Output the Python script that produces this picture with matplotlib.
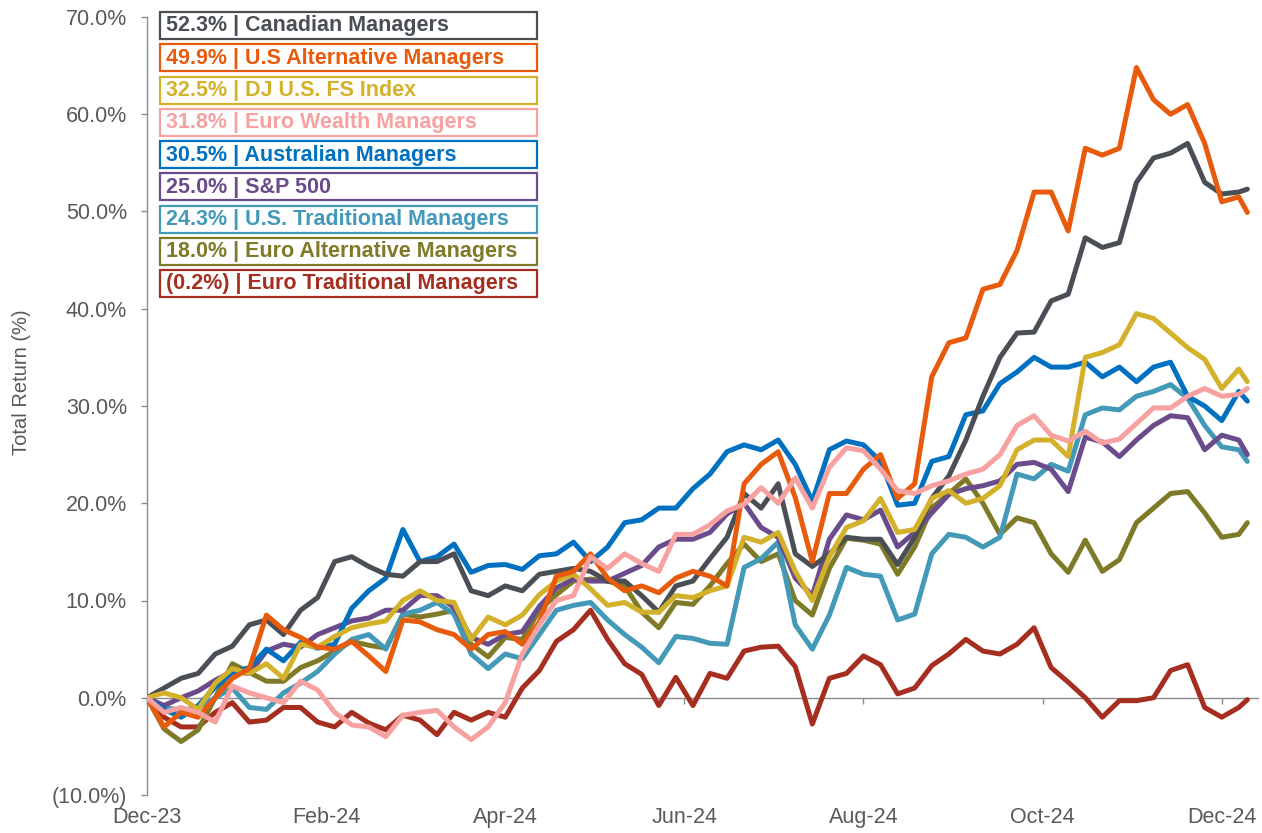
import matplotlib
matplotlib.use("Agg")
import matplotlib.pyplot as plt
from matplotlib.patches import Rectangle
from matplotlib.ticker import FuncFormatter
import numpy as np

plt.rcParams['font.family'] = ['Liberation Sans', 'DejaVu Sans']

# trading-day index of each sample (Dec-23 = 0)
day = list(range(0, 257, 4)) + [258]

tick_days = [0, 42, 84, 126, 168, 210, 252]
tick_labels = ['Dec-23', 'Feb-24', 'Apr-24', 'Jun-24', 'Aug-24', 'Oct-24', 'Dec-24']

names = ['Canadian Managers', 'U.S Alternative Managers', 'DJ U.S. FS Index',
         'Euro Wealth Managers', 'Australian Managers', 'S&P 500',
         'U.S. Traditional Managers', 'Euro Alternative Managers',
         'Euro Traditional Managers']
final_returns = [52.3, 49.9, 32.5, 31.8, 30.5, 25.0, 24.3, 18.0, -0.2]
colors = ['#4a4f55', '#e85a0c', '#d4b12a', '#f7a1a1', '#0070c0',
          '#6a4c8c', '#4399b8', '#7f7a28', '#a52e20']

canadian = [0, 1.0, 2.0, 2.5, 4.5, 5.3, 7.5, 8.0, 6.5, 9.0, 10.3, 14.0, 14.5, 13.5,
            12.7, 12.5, 14.0, 14.0, 14.8, 11.0, 10.5, 11.5, 11.0, 12.7, 13.0, 13.3,
            13.0, 12.0, 12.0, 10.5, 8.8, 11.5, 12.0, 14.3, 16.5, 21.0, 19.5, 22.0,
            14.8, 13.5, 14.8, 16.5, 16.3, 16.3, 13.7, 16.5, 20.5, 22.8, 26.5, 31.0,
            35.0, 37.5, 37.6, 40.8, 41.5, 47.3, 46.3, 46.8, 53.0, 55.5, 56.0, 57.0,
            53.0, 51.8, 52.0, 52.3]
us_alt = [0, -3.0, -1.5, -2.0, 0, 2.0, 3.0, 8.5, 7.0, 6.2, 5.2, 5.0, 5.8, 4.3, 2.7,
          8.0, 7.8, 7.0, 6.5, 5.0, 6.5, 6.8, 5.5, 7.8, 12.5, 13.0, 14.8, 12.3, 11.0,
          11.5, 10.8, 12.3, 13.0, 12.5, 11.5, 22.0, 24.0, 25.3, 20.6, 14.0, 21.0,
          21.0, 23.5, 25.0, 20.5, 22.0, 33.0, 36.5, 37.0, 42.0, 42.5, 46.0, 52.0,
          52.0, 48.0, 56.5, 55.8, 56.5, 64.8, 61.5, 60.0, 61.0, 57.0, 51.0, 51.5, 49.9]
dj_fs = [0, 0.5, 0, -1.2, 1.5, 3.0, 2.5, 3.5, 2.0, 5.5, 5.2, 6.3, 7.2, 7.6, 7.9, 10.0,
         11.0, 10.0, 9.8, 6.0, 8.3, 7.5, 8.5, 10.6, 12.0, 12.7, 11.2, 9.5, 9.8, 8.8,
         8.8, 10.5, 10.3, 11.0, 11.5, 16.5, 16.0, 17.0, 13.0, 10.0, 14.5, 17.5, 18.2,
         20.5, 17.0, 17.3, 20.5, 21.3, 20.0, 20.5, 21.8, 25.5, 26.5, 26.5, 24.8, 35.0,
         35.5, 36.3, 39.5, 39.0, 37.5, 36.0, 34.8, 31.8, 33.8, 32.5]
euro_wealth = [0, -1.5, -1.0, -1.5, -2.5, 1.2, 0.5, 0, -0.5, 1.7, 0.8, -1.5, -2.8,
               -3.0, -4.0, -1.8, -1.5, -1.3, -3.0, -4.3, -3.0, -0.5, 4.5, 7.5, 10.0,
               10.5, 14.5, 13.3, 14.8, 13.8, 13.0, 16.8, 16.8, 17.8, 19.2, 19.9, 21.6,
               20.0, 22.6, 19.5, 23.7, 25.7, 25.4, 23.5, 21.3, 21.0, 21.8, 22.3, 23.0,
               23.5, 25.0, 28.0, 29.0, 27.0, 26.4, 27.4, 26.2, 26.6, 28.2, 29.8, 29.8,
               31.0, 31.8, 31.0, 31.2, 31.8]
australian = [0, -1.2, -2.0, -0.8, 1.1, 2.6, 3.1, 5.0, 3.8, 5.7, 5.1, 5.5, 9.2, 11.0,
              12.3, 17.3, 14.0, 14.5, 15.8, 12.9, 13.6, 13.7, 13.2, 14.6, 14.8, 16.0,
              14.0, 15.5, 18.0, 18.3, 19.5, 19.5, 21.5, 23.0, 25.3, 26.0, 25.5, 26.5,
              24.0, 20.2, 25.5, 26.4, 26.0, 24.3, 19.8, 20.0, 24.3, 24.8, 29.1, 29.5,
              32.3, 33.5, 35.0, 34.0, 34.0, 34.5, 33.0, 34.0, 32.5, 34.0, 34.5, 31.0,
              30.0, 28.5, 31.5, 30.5]
sp500 = [0, -0.8, 0, 0.7, 1.8, 2.7, 2.5, 4.8, 5.5, 5.2, 6.5, 7.2, 7.9, 8.2, 9.0, 9.0,
         10.5, 10.5, 9.3, 6.2, 5.5, 6.5, 6.8, 9.4, 11.3, 12.2, 12.0, 12.0, 12.8, 13.6,
         15.5, 16.3, 16.3, 17.0, 18.9, 20.0, 17.5, 16.5, 12.3, 10.5, 16.3, 18.8, 18.3,
         19.3, 15.5, 17.0, 19.0, 20.9, 21.5, 21.8, 22.3, 24.0, 24.2, 23.5, 21.2, 26.8,
         26.3, 24.8, 26.5, 28.0, 29.0, 28.8, 25.5, 27.0, 26.5, 25.0]
us_trad = [0, -1.0, -1.3, -1.0, 0, 1.0, -1.0, -1.2, 0.5, 1.5, 2.7, 4.5, 6.0, 6.5, 5.0,
           8.6, 9.0, 9.8, 8.6, 4.5, 3.0, 4.5, 4.0, 6.5, 9.0, 9.5, 9.8, 8.0, 6.5, 5.2,
           3.6, 6.3, 6.1, 5.6, 5.5, 13.4, 14.3, 16.0, 7.5, 5.0, 8.5, 13.4, 12.7, 12.5,
           8.0, 8.6, 14.8, 16.8, 16.5, 15.5, 16.5, 23.0, 22.5, 24.0, 23.3, 29.1, 29.8,
           29.6, 31.0, 31.5, 32.2, 30.8, 28.0, 25.8, 25.5, 24.3]
euro_alt = [0, -3.2, -4.5, -3.3, 0, 3.5, 2.6, 1.7, 1.7, 3.1, 3.8, 4.8, 5.8, 5.4, 5.1,
            8.6, 8.3, 8.6, 9.0, 5.5, 4.2, 6.2, 6.0, 9.0, 10.6, 12.0, 12.2, 12.0, 11.5,
            8.8, 7.2, 9.8, 9.6, 11.5, 13.8, 15.8, 14.0, 14.8, 10.0, 8.5, 13.3, 16.4,
            16.2, 15.8, 12.7, 15.5, 19.5, 21.0, 22.5, 20.0, 16.8, 18.5, 18.0, 14.8,
            12.9, 16.2, 13.0, 14.2, 18.0, 19.5, 21.0, 21.2, 19.0, 16.5, 16.8, 18.0]
euro_trad = [0, -2.0, -3.0, -3.0, -1.5, -0.5, -2.5, -2.3, -1.0, -1.0, -2.5, -3.0, -1.5,
             -2.6, -3.3, -1.8, -2.3, -3.8, -1.5, -2.3, -1.5, -2.0, 1.0, 2.8, 5.8, 7.0,
             9.0, 6.0, 3.5, 2.4, -0.8, 2.1, -0.8, 2.5, 2.0, 4.8, 5.2, 5.3, 3.2, -2.7,
             2.0, 2.5, 4.3, 3.4, 0.4, 1.0, 3.3, 4.5, 6.0, 4.8, 4.5, 5.5, 7.2, 3.1, 1.6,
             0, -2.0, -0.3, -0.3, 0, 2.8, 3.4, -1.0, -2.0, -1.0, -0.2]

series = [canadian, us_alt, dj_fs, euro_wealth, australian, sp500,
          us_trad, euro_alt, euro_trad]
draw_order = [8, 7, 6, 5, 4, 0, 2, 1, 3]

W, H = 1262, 833
fig = plt.figure(figsize=(W / 100, H / 100), dpi=100)
ax = fig.add_axes([147 / W, 1 - 795 / H, 1111 / W, 778 / H])

for i in draw_order:
    ax.plot(day, series[i], color=colors[i], lw=3.6, solid_joinstyle='round',
            solid_capstyle='round', zorder=3 + draw_order.index(i))

ax.set_xlim(0, 260.5)
ax.set_ylim(-10, 70)

axis_grey = '#8a8a8a'
text_grey = '#595959'
for s in ['top', 'right']:
    ax.spines[s].set_visible(False)
ax.spines['left'].set_color(axis_grey)
ax.spines['left'].set_linewidth(1.0)
ax.spines['bottom'].set_position(('data', 0))
ax.spines['bottom'].set_color(axis_grey)
ax.spines['bottom'].set_linewidth(1.0)

ax.set_yticks(np.arange(-10, 71, 10))


def pct(v, pos):
    if v < 0:
        return f'({abs(v):.1f}%)'
    return f'{v:.1f}%'


ax.yaxis.set_major_formatter(FuncFormatter(pct))
ax.tick_params(axis='y', direction='out', length=4.5, width=1.0, color=axis_grey,
               labelsize=15.5, labelcolor=text_grey, pad=10)
ax.set_xticks(tick_days)
ax.set_xticklabels(tick_labels)
ax.tick_params(axis='x', direction='out', length=4.5, width=1.0, color=axis_grey,
               labelsize=15.5, labelcolor=text_grey, pad=74)

fig.text(22 / W, 1 - 382 / H, 'Total Return (%)', rotation=90, ha='center',
         va='center', fontsize=14.5, color=text_grey)

# boxed legend
box_left, box_right = 160, 537
box_h, pitch, top0 = 27, 32.25, 12
for i, name in enumerate(names):
    v = final_returns[i]
    val = f'({abs(v):.1f}%)' if v < 0 else f'{v:.1f}%'
    y_top = top0 + i * pitch
    fig.patches.append(Rectangle((box_left / W, 1 - (y_top + box_h) / H),
                                 (box_right - box_left) / W, box_h / H,
                                 transform=fig.transFigure, facecolor='white',
                                 edgecolor=colors[i], lw=1.6, zorder=20))
    fig.text(166 / W, 1 - (y_top + box_h / 2 + 0.5) / H, f'{val} | {name}',
             color=colors[i], fontsize=15.5, fontweight='bold', ha='left',
             va='center', zorder=21)

fig.savefig('out.png', dpi=100)
